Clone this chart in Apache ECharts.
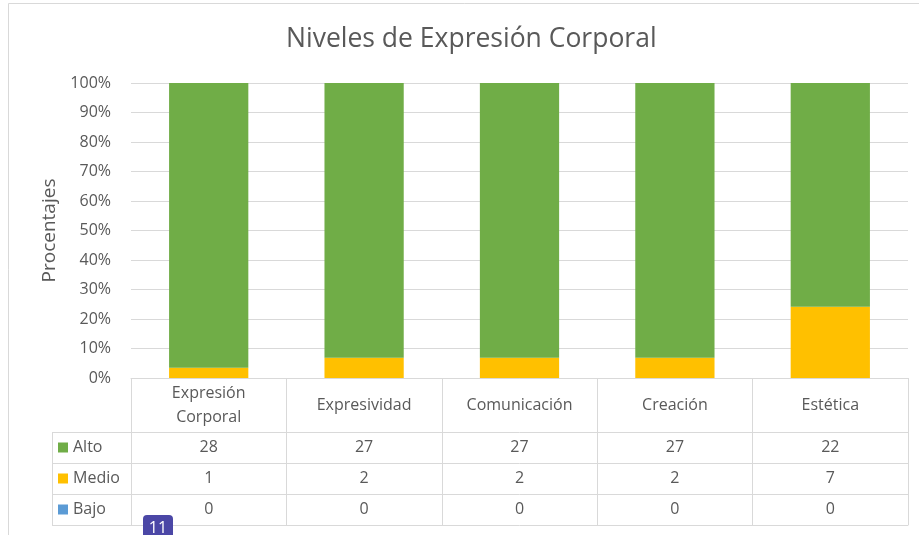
<!DOCTYPE html>
<html>
<head>
<meta charset="utf-8">
<script src="https://cdn.jsdelivr.net/npm/echarts@6/dist/echarts.min.js"></script>
<style>html,body{margin:0;padding:0;background:#fff;}#c{width:919px;height:535px;}</style>
</head>
<body>
<div id="c"></div>
<script>
const categories = ['Expresión\nCorporal', 'Expresividad', 'Comunicación', 'Creación', 'Estética'];
const alto = [28, 27, 27, 27, 22];
const medio = [1, 2, 2, 2, 7];
const bajo = [0, 0, 0, 0, 0];
const seriesNames = ['Alto', 'Medio', 'Bajo'];
const yTicks = [0, 10, 20, 30, 40, 50, 60, 70, 80, 90, 100];

const colors = { Alto: '#70AD47', Medio: '#FFC000', Bajo: '#5B9BD5' };
const totals = alto.map((v, i) => v + medio[i] + bajo[i]);
const pct = arr => arr.map((v, i) => v / totals[i] * 100);

const FONT = '"Open Sans", "Noto Sans", sans-serif';
const txt = '#595959';
const lineC = '#d9d9d9';
const FS = 16;

const gridLeft = 131, gridRight = 11, gridTop = 83, gridBottomY = 378;
const rowTops = [432, 463, 494];
const rowH = 31;
const tableBottom = 525;
const legendLeft = 52;

function rowAxis(idx, arr) {
  return {
    type: 'category', data: categories, position: 'bottom',
    offset: rowTops[idx] - gridBottomY,
    axisLine: { show: true, lineStyle: { color: lineC, width: 1 } },
    axisTick: { show: false },
    axisLabel: {
      interval: 0, margin: rowH / 2, verticalAlign: 'middle',
      color: txt, fontSize: FS, fontFamily: FONT,
      formatter: (v, i) => String(arr[i])
    },
    splitLine: { show: false }
  };
}

const chart = echarts.init(document.getElementById('c'));
const graphics = [
  { type: 'rect', shape: { x: 8.5, y: 3.5, width: 940, height: 560 }, style: { fill: 'none', stroke: lineC, lineWidth: 1 }, silent: true, z: -1 }
];
[...rowTops, tableBottom].forEach(y => {
  graphics.push({ type: 'line', shape: { x1: legendLeft, y1: y + 0.5, x2: gridLeft, y2: y + 0.5 }, style: { stroke: lineC, lineWidth: 1 }, silent: true });
});
graphics.push({ type: 'line', shape: { x1: legendLeft + 0.5, y1: rowTops[0], x2: legendLeft + 0.5, y2: tableBottom }, style: { stroke: lineC, lineWidth: 1 }, silent: true });
seriesNames.forEach((n, i) => {
  const cy = rowTops[i] + rowH / 2;
  graphics.push({ type: 'rect', shape: { x: 58, y: cy - 5, width: 10, height: 10 }, style: { fill: colors[n] }, silent: true });
  graphics.push({ type: 'text', x: 73, y: cy, style: { text: n, fill: txt, font: FS + 'px ' + FONT, verticalAlign: 'middle', align: 'left' }, silent: true });
});
graphics.push({ type: 'rect', shape: { x: 143, y: 515, width: 30, height: 30, r: 4 }, style: { fill: '#4B47A6' }, silent: true, z: 100 });
graphics.push({ type: 'text', x: 158, y: 528, style: { text: '11', fill: '#ffffff', font: '16px ' + FONT, align: 'center', verticalAlign: 'middle' }, silent: true, z: 101 });

chart.setOption({
  backgroundColor: '#ffffff',
  animation: false,
  title: {
    text: 'Niveles de Expresión Corporal', left: 281, top: 21,
    textStyle: { fontFamily: FONT, fontSize: 26.5, fontWeight: 'normal', color: txt }
  },
  grid: { left: gridLeft, right: gridRight, top: gridTop, bottom: 535 - gridBottomY, containLabel: false },
  xAxis: [
    {
      type: 'category', data: categories, position: 'bottom',
      axisLine: { show: true, lineStyle: { color: lineC } },
      axisTick: { show: true, interval: 0, length: tableBottom - gridBottomY, lineStyle: { color: lineC } },
      axisLabel: { interval: 0, margin: 27, verticalAlign: 'middle', color: txt, fontSize: FS, lineHeight: 24, fontFamily: FONT },
      splitLine: { show: false }
    },
    rowAxis(0, alto),
    rowAxis(1, medio),
    rowAxis(2, bajo),
    {
      type: 'category', data: categories, position: 'bottom', offset: tableBottom - gridBottomY,
      axisLine: { show: true, lineStyle: { color: lineC } },
      axisTick: { show: false }, axisLabel: { show: false }
    }
  ],
  yAxis: {
    type: 'value', min: yTicks[0], max: yTicks[yTicks.length - 1], interval: 10,
    name: 'Procentajes', nameLocation: 'middle', nameGap: 70, nameRotate: 90,
    nameTextStyle: { fontFamily: FONT, fontSize: 19, color: txt },
    axisLine: { show: false }, axisTick: { show: false },
    axisLabel: { formatter: '{value}%', color: txt, fontSize: FS, fontFamily: FONT, margin: 20 },
    splitLine: { lineStyle: { color: lineC, width: 1 } }
  },
  series: [
    { name: 'Bajo', type: 'bar', stack: 's', data: pct(bajo), itemStyle: { color: colors.Bajo }, barWidth: '51%' },
    { name: 'Medio', type: 'bar', stack: 's', data: pct(medio), itemStyle: { color: colors.Medio }, barWidth: '51%' },
    { name: 'Alto', type: 'bar', stack: 's', data: pct(alto), itemStyle: { color: colors.Alto }, barWidth: '51%' }
  ],
  graphic: graphics
});
</script>
</body>
</html>
